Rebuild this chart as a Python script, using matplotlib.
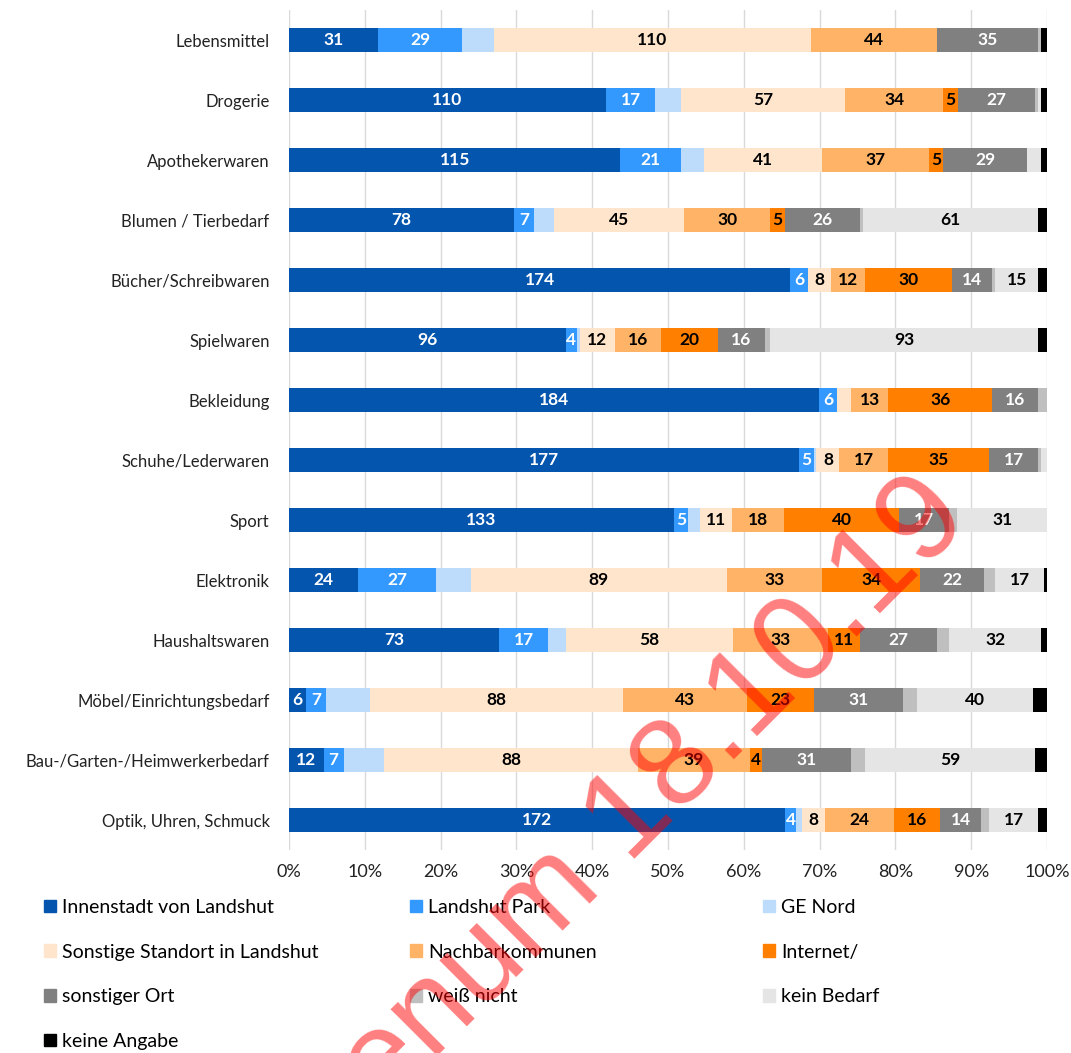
import numpy as np
import matplotlib
matplotlib.use('Agg')
import matplotlib.pyplot as plt
from matplotlib.patches import Patch

categories = ["Lebensmittel", "Drogerie", "Apothekerwaren", "Blumen / Tierbedarf",
              "Bücher/Schreibwaren", "Spielwaren", "Bekleidung", "Schuhe/Lederwaren",
              "Sport", "Elektronik", "Haushaltswaren", "Möbel/Einrichtungsbedarf",
              "Bau-/Garten-/Heimwerkerbedarf", "Optik, Uhren, Schmuck"]

series_names = ["Innenstadt von Landshut", "Landshut Park", "GE Nord",
                "Sonstige Standort in Landshut", "Nachbarkommunen", "Internet/",
                "sonstiger Ort", "weiß nicht", "kein Bedarf", "keine Angabe"]

innenstadt = [31, 110, 115, 78, 174, 96, 184, 177, 133, 24, 73, 6, 12, 172]
landshut_park = [29, 17, 21, 7, 6, 4, 6, 5, 5, 27, 17, 7, 7, 4]
ge_nord = [11, 9, 8, 7, 0, 1, 0, 1, 4, 12, 6, 15, 14, 2]
sonstige = [110, 57, 41, 45, 8, 12, 5, 8, 11, 89, 58, 88, 88, 8]
nachbar = [44, 34, 37, 30, 12, 16, 13, 17, 18, 33, 33, 43, 39, 24]
internet = [0, 5, 5, 5, 30, 20, 36, 35, 40, 34, 11, 23, 4, 16]
sonst_ort = [35, 27, 29, 26, 14, 16, 16, 17, 17, 22, 27, 31, 31, 14]
weiss_nicht = [1, 1, 0, 1, 1, 2, 3, 1, 3, 4, 4, 5, 5, 3]
kein_bedarf = [0, 1, 5, 61, 15, 93, 0, 2, 31, 17, 32, 40, 59, 17]
keine_angabe = [2, 2, 2, 3, 3, 3, 0, 0, 0, 1, 2, 5, 4, 3]

colors = ["#0455ad", "#3399ff", "#bddcfc", "#ffe5cc", "#ffb366", "#ff8000",
          "#808080", "#bfbfbf", "#e5e5e5", "#000000"]
# label colour per series, None = no data labels
label_colors = ["white", "white", None, "black", "black", "black",
                "white", None, "black", None]
# segments whose labels were left out in the original
hidden_labels = {("Bekleidung", "Sonstige Standort in Landshut"),
                 ("Drogerie", "kein Bedarf"),
                 ("Apothekerwaren", "kein Bedarf"),
                 ("Schuhe/Lederwaren", "kein Bedarf")}

plt.rcParams['font.family'] = ['Lato', 'DejaVu Sans']

data = np.array([innenstadt, landshut_park, ge_nord, sonstige, nachbar, internet,
                 sonst_ort, weiss_nicht, kein_bedarf, keine_angabe], dtype=float)
totals = data.sum(axis=0)
shares = data / totals

fig = plt.figure(figsize=(10.71, 10.53), dpi=100)
ax = fig.add_axes([289 / 1071, 1 - 850 / 1053, (1047 - 289) / 1071, 840 / 1053])

y = np.arange(len(categories))
left = np.zeros(len(categories))
for i, name in enumerate(series_names):
    bars = ax.barh(y, shares[i], left=left, height=0.4, color=colors[i],
                   label=name, zorder=3)
    if label_colors[i] is not None:
        for j, b in enumerate(bars):
            if data[i, j] == 0 or (categories[j], name) in hidden_labels:
                continue
            ax.text(left[j] + shares[i, j] / 2, y[j], f"{int(data[i, j])}",
                    ha='center', va='center', color=label_colors[i],
                    fontsize=12.5, fontweight='bold', zorder=4)
    left += shares[i]

ax.set_ylim(len(categories) - 0.5, -0.5)
ax.set_xlim(0, 1)
ax.set_yticks(y)
ax.set_yticklabels(categories, fontsize=12)
ax.set_xticks(np.linspace(0, 1, 11))
ax.set_xticklabels([f"{k}%" for k in range(0, 101, 10)], fontsize=13)
ax.tick_params(axis='both', length=0, colors='#222222')
ax.tick_params(axis='y', pad=14)
ax.tick_params(axis='x', pad=10)
ax.grid(axis='x', color='#d9d9d9', linewidth=1, zorder=0)
for s in ax.spines.values():
    s.set_visible(False)

# legend: three columns, filled row by row
handles = [Patch(color=c) for c in colors]
col_x = [44, 410, 763]
for c in range(3):
    idx = list(range(c, len(series_names), 3))
    fig.legend([handles[k] for k in idx], [series_names[k] for k in idx],
               loc='upper left', bbox_to_anchor=(col_x[c] / 1071, 1 - 899 / 1053),
               frameon=False, fontsize=14, handlelength=0.62, handleheight=0.62,
               handletextpad=0.33, labelspacing=1.42, borderpad=0, borderaxespad=0)

# red watermark across the chart
fig.text(972 / 1071, 1 - 521 / 1053, "Plenum 18.10.19", rotation=45,
         rotation_mode='anchor', ha='right', va='baseline', fontsize=90,
         family='Liberation Sans', color='red', alpha=0.5, zorder=10)

fig.savefig('out.png', dpi=100)
